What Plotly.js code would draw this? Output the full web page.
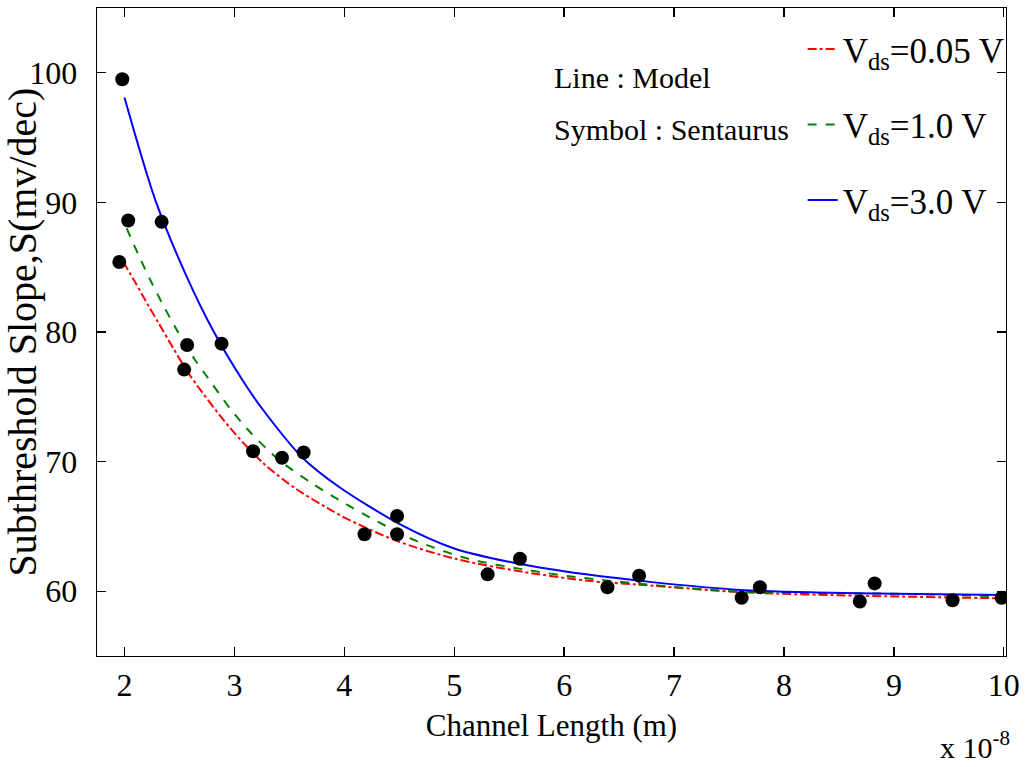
<!DOCTYPE html>
<html>
<head>
<meta charset="utf-8">
<script src="https://cdn.plot.ly/plotly-3.0.1.min.js"></script>
<style>
  html, body { margin: 0; padding: 0; background: #ffffff; }
  #chart { width: 1026px; height: 767px; }
</style>
</head>
<body>
<div id="chart"></div>
<script>
// Channel length in units of 1e-8 m
// Model curves (lines)
const modelX_005 = [1.99, 2.10, 2.22, 2.31, 2.44, 2.60, 2.96, 3.26, 3.56, 3.87, 4.02, 4.47, 5.01, 5.62, 6.22, 6.68, 7.67, 8.70, 10.0];
const modelS_005 = [85.4, 83.8, 82.0, 80.7, 78.8, 76.6, 72.6, 69.9, 67.9, 66.3, 65.6, 63.9, 62.5, 61.5, 60.8, 60.5, 59.9, 59.65, 59.45];

const modelX_10 = [2.02, 2.13, 2.23, 2.35, 2.48, 2.63, 2.73, 2.96, 3.14, 3.41, 3.71, 4.02, 4.23, 4.65, 5.13, 5.62, 6.10, 7.52, 9.04, 10.0];
const modelS_10 = [88.0, 85.9, 84.1, 82.1, 80.1, 78.0, 76.8, 74.1, 72.3, 70.1, 68.3, 66.7, 65.7, 63.9, 62.5, 61.7, 61.1, 60.0, 59.8, 59.6];

const modelX_30 = [2.00, 2.28, 2.57, 2.82, 3.08, 3.26, 3.62, 3.96, 4.50, 5.00, 5.60, 6.20, 6.80, 7.60, 8.30, 9.00, 10.0];
const modelS_30 = [98.1, 90.2, 84.2, 79.9, 76.2, 74.0, 70.3, 68.0, 65.2, 63.3, 62.1, 61.3, 60.7, 60.1, 59.9, 59.8, 59.7];

// Sentaurus simulation results (symbols)
const simX_005 = [1.953, 2.543, 3.17, 4.184, 5.304, 6.394, 7.615, 8.69];
const simS_005 = [85.4, 77.1, 70.8, 64.4, 61.3, 60.3, 59.5, 59.2];

const simX_10 = [2.034, 2.57, 3.433, 4.48, 9.534];
const simS_10 = [88.6, 79.0, 70.3, 64.4, 59.3];

const simX_30 = [1.98, 2.338, 2.883, 3.63, 4.48, 5.598, 6.682, 7.781, 8.825, 9.98];
const simS_30 = [99.5, 88.5, 79.1, 70.7, 65.8, 62.5, 61.2, 60.3, 60.6, 59.5];

const xTicks = [2, 3, 4, 5, 6, 7, 8, 9, 10];
const yTicks = [60, 70, 80, 90, 100];

const serif = 'Liberation Serif, Times New Roman, serif';

function modelTrace(x, y, name, color, dash, group) {
  return {
    x: x, y: y, name: name, mode: 'lines', type: 'scatter',
    line: { color: color, width: 2, dash: dash, shape: 'spline', smoothing: 0.8 },
    legendgroup: group
  };
}

function simTrace(x, y) {
  return {
    x: x, y: y, mode: 'markers', type: 'scatter', showlegend: false,
    marker: { color: '#000000', size: 14, symbol: 'circle' },
    hoverinfo: 'x+y'
  };
}

const traces = [
  modelTrace(modelX_005, modelS_005, 'V<sub>ds</sub>=0.05 V', '#ff0000', 'dashdot', 'g1'),
  modelTrace(modelX_10, modelS_10, 'V<sub>ds</sub>=1.0 V', '#008000', 'dash', 'g2'),
  modelTrace(modelX_30, modelS_30, 'V<sub>ds</sub>=3.0 V', '#0000ff', 'solid', 'g3'),
  simTrace(simX_005, simS_005),
  simTrace(simX_10, simS_10),
  simTrace(simX_30, simS_30)
];

const axisStyle = {
  showgrid: false, zeroline: false,
  showline: true, linecolor: '#000000', linewidth: 1.3, mirror: 'ticks',
  ticks: 'inside', ticklen: 9, tickwidth: 1.3, tickcolor: '#000000',
  tickfont: { family: serif, size: 32, color: '#000000' }
};

const layout = {
  width: 1026, height: 767,
  margin: { l: 97, r: 20, t: 8, b: 111 },
  paper_bgcolor: '#ffffff', plot_bgcolor: '#ffffff',
  font: { family: serif, color: '#000000' },
  xaxis: Object.assign({}, axisStyle, {
    range: [1.75, 10.02], tickmode: 'array', tickvals: xTicks,
    title: { text: 'Channel Length (m)', font: { family: serif, size: 31, color: '#000000' }, standoff: 12 }
  }),
  yaxis: Object.assign({}, axisStyle, {
    range: [55, 105], tickmode: 'array', tickvals: yTicks,
    ticklabelstandoff: 12,
    title: { text: 'Subthreshold Slope,S(mv/dec)', font: { family: serif, size: 40, color: '#000000' }, standoff: 6 }
  }),
  legend: {
    x: 1.004, xanchor: 'right', y: 0.982, yanchor: 'top',
    bgcolor: 'rgba(0,0,0,0)', borderwidth: 0,
    font: { family: serif, size: 35, color: '#000000' },
    traceorder: 'grouped', tracegroupgap: 27
  },
  annotations: [
    { text: 'Line : Model', xref: 'paper', yref: 'paper', x: 0.5, y: 0.892,
      xanchor: 'left', yanchor: 'middle', showarrow: false,
      font: { family: serif, size: 30, color: '#000000' } },
    { text: 'Symbol : Sentaurus', xref: 'paper', yref: 'paper', x: 0.5, y: 0.812,
      xanchor: 'left', yanchor: 'middle', showarrow: false,
      font: { family: serif, size: 30, color: '#000000' } },
    { text: 'x 10<sup>-8</sup>', xref: 'paper', yref: 'paper', x: 0.925, y: -0.137,
      xanchor: 'left', yanchor: 'middle', showarrow: false,
      font: { family: serif, size: 30, color: '#000000' } }
  ],
  showlegend: true
};

Plotly.newPlot('chart', traces, layout, { displayModeBar: false, staticPlot: true });
</script>
</body>
</html>
